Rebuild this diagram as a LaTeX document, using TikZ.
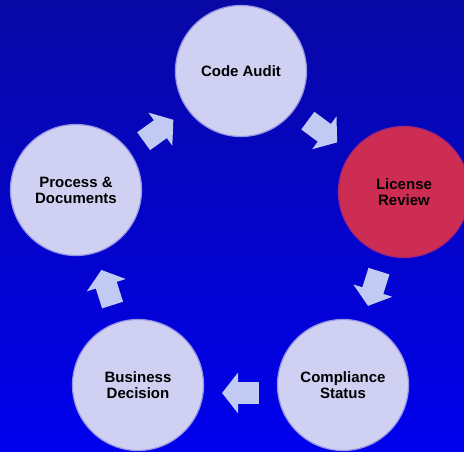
\documentclass[tikz,border=0pt]{standalone}
\usepackage{fontspec}
\setmainfont{Liberation Sans}
\usetikzlibrary{calc,arrows.meta}
\definecolor{bgtop}{RGB}{8,8,165}
\definecolor{bgbottom}{RGB}{0,0,238}
\definecolor{stagefill}{RGB}{208,208,243}
\definecolor{stagerim}{RGB}{150,150,228}
\definecolor{reviewfill}{RGB}{205,45,82}
\definecolor{flowfill}{RGB}{192,202,242}
\begin{document}
\begin{tikzpicture}[
        x=1pt, y=-1pt,
        stage/.style={circle, minimum size=131pt, inner sep=0pt, align=center, fill=stagefill, draw=stagerim, line width=1.2pt, font=\fontsize{15}{16}\selectfont\bfseries},
        current/.style={stage, fill=reviewfill, draw=reviewfill!80!blue},
        flow/.style={-{Triangle[width=40pt,length=16pt]}, line width=22pt, flowfill}
    ]
        % Background (drawn first)
        \useasboundingbox (0,0) rectangle (464,452);
        \clip (0,0) rectangle (464,452);
        \shade[top color=bgtop, bottom color=bgbottom] (0,0) rectangle (464,452);

        % Stages of the cycle
        \node[stage] (audit) at (241,71) {Code Audit};
        \node[current] (license) at (404,192) {License\\Review};
        \node[stage] (compliance) at (343,385) {Compliance\\Status};
        \node[stage] (decision) at (138,385) {Business\\Decision};
        \node[stage] (process) at (76,190) {Process \&\\Documents};

        % Block arrows between stages
        \foreach \a/\b in {process/audit, audit/license, license/compliance, decision/process} {
            \draw[flow] ($(\a)!.41!(\b)$) -- ($(\a)!.59!(\b)$);
        }
        \draw[flow] ([yshift=-8pt]$(compliance)!.41!(decision)$) -- ([yshift=-8pt]$(compliance)!.59!(decision)$);
    \end{tikzpicture}
\end{document}
